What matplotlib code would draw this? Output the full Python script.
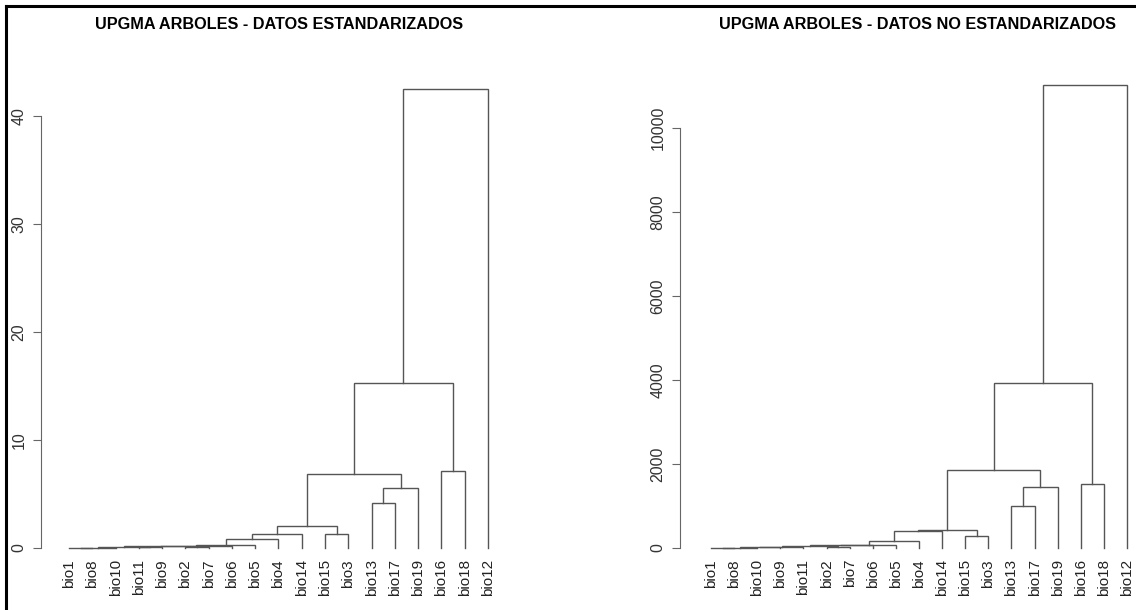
import matplotlib.pyplot as plt
from matplotlib.lines import Line2D

W, H = 1136, 610

# left panel: standardized data
std_leaves = ["bio1", "bio8", "bio10", "bio11", "bio9", "bio2", "bio7", "bio6", "bio5", "bio4",
              "bio14", "bio15", "bio3", "bio13", "bio17", "bio19", "bio16", "bio18", "bio12"]
# merges in order: "mN" points to the N-th merge
std_a = ["bio1", "m0", "bio11", "m1", "bio2", "m3", "m5", "m6", "m7", "m8",
         "bio15", "m9", "bio13", "m12", "m11", "bio16", "m14", "m16"]
std_b = ["bio8", "bio10", "bio9", "m2", "bio7", "m4", "bio6", "bio5", "bio4", "bio14",
         "bio3", "m10", "bio17", "bio19", "m13", "bio18", "m15", "bio12"]
std_h = [0.01, 0.03, 0.06, 0.09, 0.10, 0.15, 0.22, 0.31, 0.88, 1.34,
         1.28, 2.03, 4.2, 5.6, 6.85, 7.15, 15.3, 42.5]
std_ticks = [0, 10, 20, 30, 40]

# right panel: raw data
raw_leaves = ["bio1", "bio8", "bio10", "bio9", "bio11", "bio2", "bio7", "bio6", "bio5", "bio4",
              "bio14", "bio15", "bio3", "bio13", "bio17", "bio19", "bio16", "bio18", "bio12"]
raw_a = ["bio1", "m0", "m1", "m2", "bio2", "m3", "m5", "m6", "m7", "m8",
         "bio15", "m9", "bio13", "m12", "m11", "bio16", "m14", "m16"]
raw_b = ["bio8", "bio10", "bio9", "bio11", "bio7", "m4", "bio6", "bio5", "bio4", "bio14",
         "bio3", "m10", "bio17", "bio19", "m13", "bio18", "m15", "bio12"]
raw_h = [2, 8, 15, 28, 20, 40, 60, 80, 175, 405,
         290, 420, 1000, 1460, 1860, 1535, 3930, 11020]
raw_ticks = [0, 2000, 4000, 6000, 8000, 10000]

LINE = "#555555"
plt.rcParams["font.family"] = ["Liberation Sans", "DejaVu Sans"]


def draw_tree(ax, leaves, a, b, h):
    pos = {name: i + 1 for i, name in enumerate(leaves)}
    hgt = {name: 0.0 for name in leaves}
    for i, (ca, cb, y) in enumerate(zip(a, b, h)):
        xa, xb = pos[ca], pos[cb]
        ax.plot([xa, xa, xb, xb], [hgt[ca], y, y, hgt[cb]], color=LINE, lw=1.0,
                solid_joinstyle="miter")
        pos["m%d" % i] = (xa + xb) / 2
        hgt["m%d" % i] = y
    for name in leaves:
        ax.annotate(name, (pos[name], 0), xytext=(0, -11), textcoords="offset pixels",
                    rotation=90, ha="center", va="top", fontsize=11, color="#222222")


def style(ax, ticks):
    for s in ["top", "right", "bottom"]:
        ax.spines[s].set_visible(False)
    ax.spines["left"].set_bounds(ticks[0], ticks[-1])
    ax.spines["left"].set_color("#666666")
    ax.set_xticks([])
    ax.set_yticks(ticks)
    ax.set_yticklabels([str(t) for t in ticks], rotation=90, va="center", fontsize=11.5,
                       color="#333333")
    ax.tick_params(axis="y", length=6, color="#666666", pad=4.5)


def px_axes(fig, x0, x1, top, bottom):
    return fig.add_axes([x0 / W, (H - bottom) / H, (x1 - x0) / W, (bottom - top) / H])


fig = plt.figure(figsize=(W / 100, H / 100), dpi=100)

ax1 = px_axes(fig, 41, 518, 75, 560)
draw_tree(ax1, std_leaves, std_a, std_b, std_h)
ax1.set_xlim(-0.203, 20.289)
ax1.set_ylim(-1.11, 43.8)
style(ax1, std_ticks)

ax2 = px_axes(fig, 680, 1136, 75, 560)
draw_tree(ax2, raw_leaves, raw_a, raw_b, raw_h)
ax2.set_xlim(-0.341, 19.389)
ax2.set_ylim(-286, 11262)
style(ax2, raw_ticks)

fig.text(279.5 / W, 1 - 29 / H, "UPGMA ARBOLES - DATOS ESTANDARIZADOS", ha="center",
         va="baseline", fontsize=11.7, fontweight="bold")
fig.text(917.5 / W, 1 - 29 / H, "UPGMA ARBOLES - DATOS NO ESTANDARIZADOS", ha="center",
         va="baseline", fontsize=11.7, fontweight="bold")

# frame lines on the top and left edges of the screenshot
fig.add_artist(Line2D([6 / W, 1], [1 - 6 / H, 1 - 6 / H], color="black", lw=2.2))
fig.add_artist(Line2D([6 / W, 6 / W], [0, 1 - 6 / H], color="black", lw=2.2))

fig.savefig("out.png", dpi=100)
